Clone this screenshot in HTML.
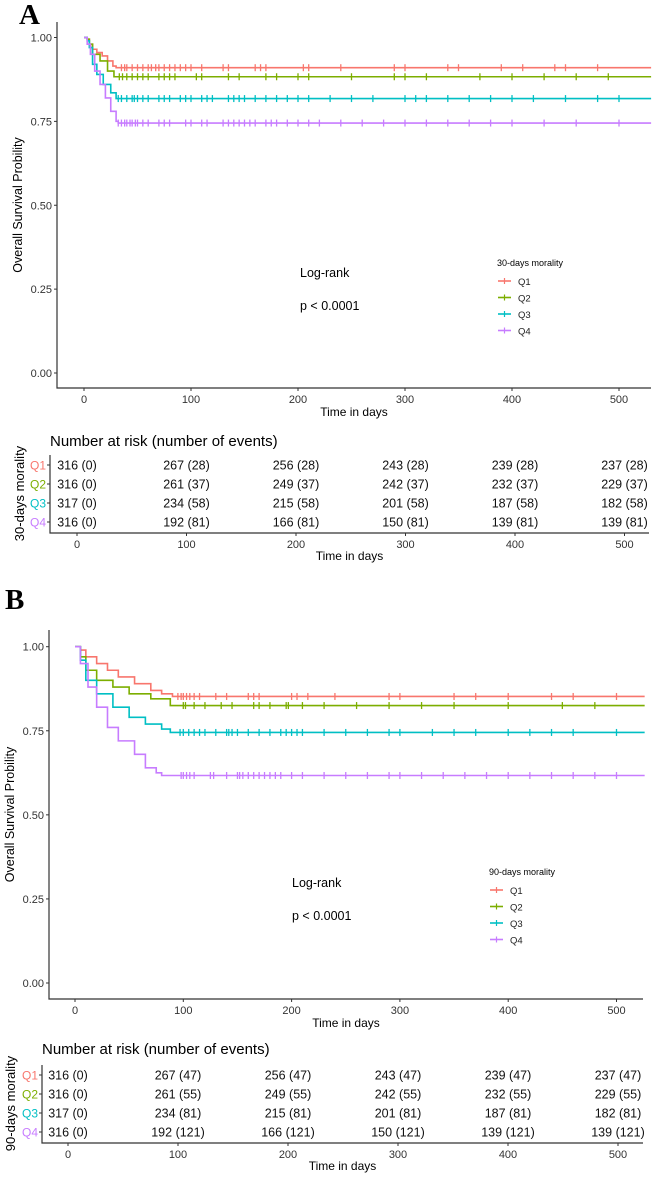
<!DOCTYPE html>
<html><head><meta charset="utf-8"><style>
html,body{margin:0;padding:0;background:#fff;}
svg{display:block;font-family:"Liberation Sans",Arial,sans-serif;}
</style></head><body>
<svg id="fig" width="656" height="1180" viewBox="0 0 656 1180" xmlns="http://www.w3.org/2000/svg">
<text x="19" y="24" font-family="Liberation Serif,serif" font-size="29" font-weight="bold">A</text>
<text x="5" y="609" font-family="Liberation Serif,serif" font-size="29" font-weight="bold">B</text>
</svg>
<script>
const colors=["#F8766D","#7CAE00","#00BFC4","#C77CFF"];
const groups=["Q1","Q2","Q3","Q4"];
const xTicks=[0,100,200,300,400,500];
const yTicks=[0,0.25,0.5,0.75,1.0];
const yTickLabels=["0.00","0.25","0.50","0.75","1.00"];
// Panel A step data (time, survival)
const aQ1T=[0,3,5,8,12,17,22,27,30], aQ1S=[1,0.995,0.98,0.965,0.955,0.945,0.93,0.915,0.91];
const aQ2T=[0,3,5,8,15,22,28], aQ2S=[1,0.995,0.98,0.95,0.93,0.9,0.883];
const aQ3T=[0,3,5,8,12,18,25,30], aQ3S=[1,0.99,0.97,0.92,0.89,0.86,0.835,0.818];
const aQ4T=[0,3,6,10,15,20,25,30,32], aQ4S=[1,0.98,0.95,0.9,0.86,0.82,0.78,0.75,0.745];
const aCens=[[35,38,40,45,50,55,60,63,67,70,75,80,85,90,95,100,110,130,135,160,165,170,205,210,240,290,300,340,350,390,410,440,450,480],
 [33,36,40,45,50,55,60,70,75,80,85,105,110,135,145,170,180,200,210,250,290,300,320,370,400,430,460,490],
 [32,35,40,45,47,50,55,60,70,75,80,90,95,100,110,115,120,135,140,145,150,160,170,180,190,200,210,230,250,270,300,310,320,340,360,380,400,420,450,480,500],
 [32,35,38,40,43,45,48,50,55,60,70,75,80,95,100,110,115,130,135,140,145,150,155,160,170,175,180,190,200,210,220,240,260,280,300,320,340,360,380,400,430,460,500]];
// Panel B step data
const bQ1T=[0,5,10,20,30,40,55,70,80,90], bQ1S=[1,0.99,0.97,0.95,0.93,0.91,0.89,0.87,0.86,0.852];
const bQ2T=[0,5,10,20,35,50,70,88], bQ2S=[1,0.97,0.93,0.9,0.88,0.86,0.845,0.825];
const bQ3T=[0,5,10,20,35,50,65,80,88], bQ3S=[1,0.96,0.9,0.86,0.82,0.79,0.77,0.755,0.745];
const bQ4T=[0,5,12,20,30,40,55,65,75,80], bQ4S=[1,0.95,0.88,0.82,0.76,0.72,0.68,0.64,0.625,0.617];
const bCens=[[95,98,100,103,106,110,115,130,140,160,165,170,200,205,215,240,290,300,350,370,400,440,460,500],
 [100,102,110,120,135,145,165,170,180,195,197,210,230,260,290,320,350,400,450,480],
 [97,100,105,110,115,120,130,140,142,145,150,160,170,180,190,195,200,205,210,230,250,270,290,300,330,350,370,400,420,440,460,500],
 [98,100,103,106,110,125,128,140,150,152,155,160,165,170,175,180,185,190,200,210,230,250,270,290,300,320,340,360,380,400,420,440,460,480,500]];
// Risk tables
const riskA=[["316 (0)","267 (28)","256 (28)","243 (28)","239 (28)","237 (28)"],
 ["316 (0)","261 (37)","249 (37)","242 (37)","232 (37)","229 (37)"],
 ["317 (0)","234 (58)","215 (58)","201 (58)","187 (58)","182 (58)"],
 ["316 (0)","192 (81)","166 (81)","150 (81)","139 (81)","139 (81)"]];
const riskB=[["316 (0)","267 (47)","256 (47)","243 (47)","239 (47)","237 (47)"],
 ["316 (0)","261 (55)","249 (55)","242 (55)","232 (55)","229 (55)"],
 ["317 (0)","234 (81)","215 (81)","201 (81)","187 (81)","182 (81)"],
 ["316 (0)","192 (121)","166 (121)","150 (121)","139 (121)","139 (121)"]];

const svg=document.getElementById('fig');
const NS="http://www.w3.org/2000/svg";
function mk(tag,attrs,parent){const e=document.createElementNS(NS,tag);for(const k in attrs)e.setAttribute(k,attrs[k]);(parent||svg).appendChild(e);return e;}
function txt(x,y,s,size,anchor,fill,parent){const t=mk('text',{x:x,y:y,'font-size':size,'text-anchor':anchor||'start',fill:fill||'#000'},parent);t.textContent=s;return t;}

function panel(P){
  const g=mk('g',{});
  
  
  const X=d=>P.x0+d*P.xs, Y=s=>P.y0+(1-s)*(P.y1-P.y0);
  // axes
  const ax=mk('path',{d:`M${P.axX},${P.axTop}V${P.axBot}H${P.axRight}`,stroke:'#333',fill:'none','stroke-width':1.2},g);
  
  
  yTicks.forEach((v,i)=>{mk('line',{x1:P.axX-3,x2:P.axX,y1:Y(v),y2:Y(v),stroke:'#333'},g);
    const t=txt(P.axX-5,Y(v)+4,yTickLabels[i],11,'end','#333',g);
    
    });
  xTicks.forEach(v=>{mk('line',{x1:X(v),x2:X(v),y1:P.axBot,y2:P.axBot+3,stroke:'#333'},g);
    const t=txt(X(v),P.axBot+15,String(v),11,'middle','#333',g);
    
    });
  const xl=txt((P.axX+P.axRight)/2,P.axBot+28,'Time in days',12,'middle','#000',g);
  
  
  const yl=txt(0,0,'Overall Survival Probility',12.5,'middle','#000',g);
  yl.setAttribute('transform',`translate(${P.ylx},${(P.axTop+P.axBot)/2}) rotate(-90)`);
  
  
  // curves
  P.series.forEach((s,i)=>{
    const T=s[0],S=s[1];let d=`M${X(T[0])},${Y(S[0])}`;
    for(let k=1;k<T.length;k++){d+=`H${X(T[k])}V${Y(S[k])}`;}
    d+=`H${X(P.tmax)}`;
    const p=mk('path',{d:d,stroke:colors[i],fill:'none','stroke-width':1.6},g);
    
    
    const last=S[S.length-1];
    P.cens[i].forEach(c=>{const m=mk('line',{x1:X(c),x2:X(c),y1:Y(last)-3.5,y2:Y(last)+3.5,stroke:colors[i],'stroke-width':1.3},g);
      
      });
  });
  const lr=txt(P.lrx,P.lry,'Log-rank',12.5,'start','#000',g);
  
  
  const pv=txt(P.lrx,P.lry+33,'p < 0.0001',12.5,'start','#000',g);
  
  
  // legend
  const lg=mk('g',{},g);
  
  
  txt(P.lgx,P.lgy,P.legTitle,9,'start','#000',lg);
  groups.forEach((q,i)=>{const yy=P.lgy+18+i*16.5;
    const e=mk('g',{},lg);
    
    
    mk('line',{x1:P.lgx+1,x2:P.lgx+14,y1:yy-3,y2:yy-3,stroke:colors[i],'stroke-width':1.6},e);
    mk('line',{x1:P.lgx+7.5,x2:P.lgx+7.5,y1:yy-6,y2:yy,stroke:colors[i],'stroke-width':1.2},e);
    txt(P.lgx+21,yy+1,q,9.5,'start','#222',e);});
}
function table(T,risk){
  const g=mk('g',{});
  
  
  const X=d=>T.x0+d*T.xs;
  const ti=txt(T.axX,T.titleY,'Number at risk (number of events)',15,'start','#000',g);
  
  
  mk('path',{d:`M${T.axX},${T.rowY[0]-10}V${T.axBot}H${T.axRight}`,stroke:'#333',fill:'none','stroke-width':1.2},g);
  risk.forEach((row,i)=>{
    const y=T.rowY[i];
    mk('line',{x1:T.axX-3,x2:T.axX,y1:y,y2:y,stroke:'#333'},g);
    const ql=txt(T.axX-4,y+4.5,groups[i],12,'end',colors[i],g);
    
    
    row.forEach((v,j)=>{const c=txt(X(xTicks[j]),y+4.5,v,12.5,'middle','#111',g);
      
      });
  });
  xTicks.forEach(v=>{mk('line',{x1:X(v),x2:X(v),y1:T.axBot,y2:T.axBot+3,stroke:'#333'},g);
    txt(X(v),T.axBot+15,String(v),11,'middle','#333',g);});
  txt((T.axX+T.axRight)/2,T.axBot+27,'Time in days',12,'middle','#000',g);
  const yl=txt(0,0,T.ylab,13,'middle','#000',g);
  yl.setAttribute('transform',`translate(${T.ylx},${(T.rowY[0]+T.rowY[3])/2}) rotate(-90)`);
  
  
}
panel({name:'panel-a',x0:84,xs:1.07,y0:37.5,y1:373,axX:57,axTop:22,axBot:388,axRight:651,ylx:22,tmax:530,
  series:[[aQ1T,aQ1S],[aQ2T,aQ2S],[aQ3T,aQ3S],[aQ4T,aQ4S]],cens:aCens,lrx:300,lry:277,lgx:497,lgy:266,legTitle:'30-days morality'});
table({name:'panel-a',x0:77,xs:1.095,axX:50,axBot:533,axRight:649,titleY:446,rowY:[465,484,503,522],ylx:24,ylab:'30-days morality'},riskA);
panel({name:'panel-b',x0:75,xs:1.083,y0:646.7,y1:983,axX:49,axTop:630,axBot:999,axRight:643,ylx:14,tmax:526,
  series:[[bQ1T,bQ1S],[bQ2T,bQ2S],[bQ3T,bQ3S],[bQ4T,bQ4S]],cens:bCens,lrx:292,lry:887,lgx:489,lgy:875,legTitle:'90-days morality'});
table({name:'panel-b',x0:68,xs:1.1,axX:42,axBot:1143,axRight:643,titleY:1054,rowY:[1075,1094,1113,1132],ylx:15,ylab:'90-days morality'},riskB);
</script>
</body></html>
